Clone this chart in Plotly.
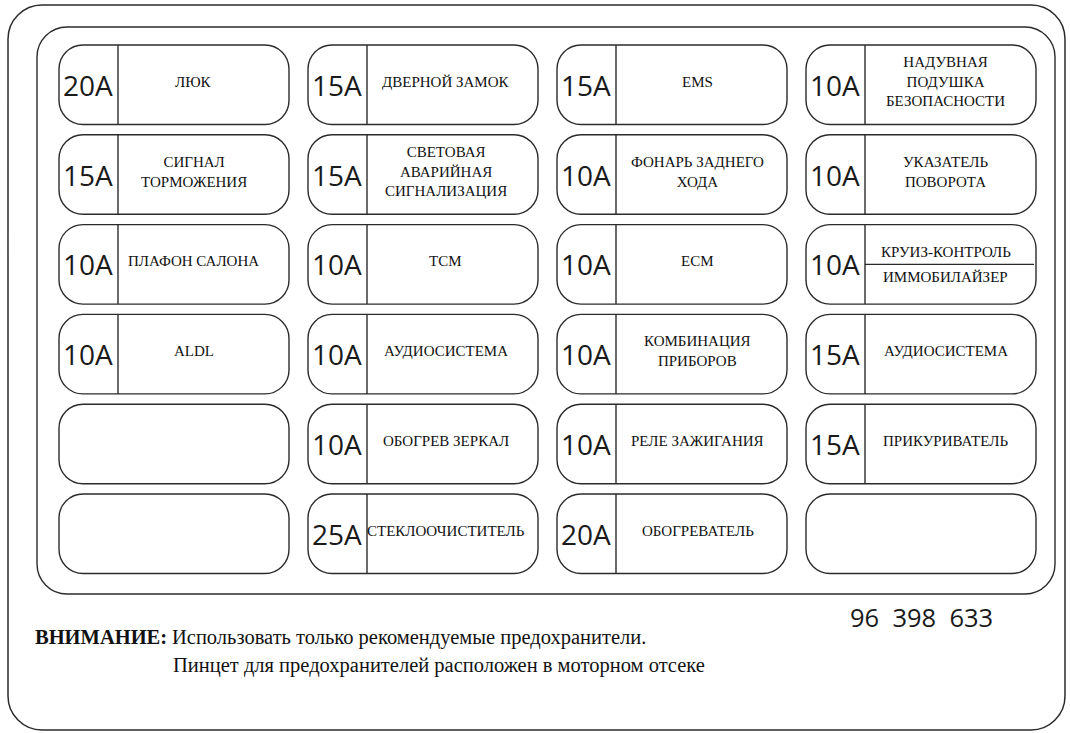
import plotly.graph_objects as go

# ---- data ----
columns = [1, 2, 3, 4]
rows = [1, 2, 3, 4, 5, 6]

amps_col1 = ["20A", "15A", "10A", "10A", "", ""]
labels_col1 = ["ЛЮК", "СИГНАЛ<br>ТОРМОЖЕНИЯ", "ПЛАФОН САЛОНА", "ALDL", "", ""]

amps_col2 = ["15A", "15A", "10A", "10A", "10A", "25A"]
labels_col2 = ["ДВЕРНОЙ ЗАМОК", "СВЕТОВАЯ<br>АВАРИЙНАЯ<br>СИГНАЛИЗАЦИЯ", "TCM",
               "АУДИОСИСТЕМА", "ОБОГРЕВ ЗЕРКАЛ", "СТЕКЛООЧИСТИТЕЛЬ"]

amps_col3 = ["15A", "10A", "10A", "10A", "10A", "20A"]
labels_col3 = ["EMS", "ФОНАРЬ ЗАДНЕГО<br>ХОДА", "ECM", "КОМБИНАЦИЯ<br>ПРИБОРОВ",
               "РЕЛЕ ЗАЖИГАНИЯ", "ОБОГРЕВАТЕЛЬ"]

amps_col4 = ["10A", "10A", "10A", "15A", "15A", ""]
labels_col4 = ["НАДУВНАЯ<br>ПОДУШКА<br>БЕЗОПАСНОСТИ", "УКАЗАТЕЛЬ<br>ПОВОРОТА",
               "КРУИЗ-КОНТРОЛЬ|ИММОБИЛАЙЗЕР", "АУДИОСИСТЕМА", "ПРИКУРИВАТЕЛЬ", ""]

part_number = "96\u00a0\u00a0398\u00a0\u00a0633"
warning_title = "ВНИМАНИЕ:"
warning_line1 = "Использовать только рекомендуемые предохранители."
warning_line2 = "Пинцет для предохранителей расположен в моторном отсеке"

all_amps = [amps_col1, amps_col2, amps_col3, amps_col4]
all_labels = [labels_col1, labels_col2, labels_col3, labels_col4]

# ---- layout geometry (style) ----
W, H = 1070, 733
cell_x0 = 59
cell_dx = 249
cell_w = 230
cell_y0 = 45
cell_dy = 89.8
cell_h = 79.5
amp_w = 59
cell_r = 24
label_dx = [-10, -7, -4, -5]
STROKE = "#2b2b2b"
SANS = "Open Sans"
SERIF = "Liberation Serif"
LABEL_SIZE = 15


def rrect(x0, y0, x1, y1, r):
    k = 0.5523 * r
    return (f"M{x0+r},{y0} L{x1-r},{y0} C{x1-r+k},{y0} {x1},{y0+r-k} {x1},{y0+r} "
            f"L{x1},{y1-r} C{x1},{y1-r+k} {x1-r+k},{y1} {x1-r},{y1} "
            f"L{x0+r},{y1} C{x0+r-k},{y1} {x0},{y1-r+k} {x0},{y1-r} "
            f"L{x0},{y0+r} C{x0},{y0+r-k} {x0+r-k},{y0} {x0+r},{y0} Z")


shapes = []
annotations = []

# outer frames
shapes.append(dict(type="path", path=rrect(8, 5, 1065, 730, 34),
                   line=dict(color=STROKE, width=1.5), xref="x", yref="y"))
shapes.append(dict(type="path", path=rrect(37, 27, 1055, 594, 30),
                   line=dict(color=STROKE, width=1.4), xref="x", yref="y"))

for ci, col in enumerate(columns):
    for ri, row in enumerate(rows):
        x0 = cell_x0 + ci * cell_dx
        x1 = x0 + cell_w
        y0 = cell_y0 + ri * cell_dy
        y1 = y0 + cell_h
        yc = (y0 + y1) / 2
        shapes.append(dict(type="path", path=rrect(x0, y0, x1, y1, cell_r),
                           line=dict(color=STROKE, width=1.4), xref="x", yref="y"))
        amp = all_amps[ci][ri]
        label = all_labels[ci][ri]
        if amp:
            xd = x0 + amp_w
            shapes.append(dict(type="line", x0=xd, x1=xd, y0=y0, y1=y1,
                               line=dict(color=STROKE, width=1.4), xref="x", yref="y"))
            annotations.append(dict(x=(x0 + xd) / 2 - 1, y=yc, text=amp, showarrow=False,
                                    xref="x", yref="y", xanchor="center", yanchor="middle",
                                    font=dict(family=SANS, size=28, color="#1a1a1a")))
        if label:
            lx = (x0 + amp_w + x1) / 2 + label_dx[ci]
            if "|" in label:
                top, bot = label.split("|")
                shapes.append(dict(type="line", x0=x0 + amp_w, x1=x1 - 2, y0=yc, y1=yc,
                                   line=dict(color=STROKE, width=1.4), xref="x", yref="y"))
                annotations.append(dict(x=lx, y=yc - 12, text=top, showarrow=False,
                                        xref="x", yref="y", xanchor="center", yanchor="middle",
                                        font=dict(family=SERIF, size=LABEL_SIZE, color="#111")))
                annotations.append(dict(x=lx, y=yc + 13, text=bot, showarrow=False,
                                        xref="x", yref="y", xanchor="center", yanchor="middle",
                                        font=dict(family=SERIF, size=LABEL_SIZE, color="#111")))
            else:
                annotations.append(dict(x=lx, y=yc - 3, text=label, showarrow=False,
                                        xref="x", yref="y", xanchor="center", yanchor="middle",
                                        font=dict(family=SERIF, size=LABEL_SIZE, color="#111")))

annotations.append(dict(x=921, y=617, text=part_number, showarrow=False, xref="x", yref="y",
                        xanchor="center", yanchor="middle",
                        font=dict(family=SANS, size=25.5, color="#1a1a1a")))
annotations.append(dict(x=33, y=637, text="<b>" + warning_title + "</b>", showarrow=False,
                        xref="x", yref="y", xanchor="left", yanchor="middle",
                        font=dict(family=SERIF, size=20.5, color="#111")))
annotations.append(dict(x=170, y=637, text=warning_line1, showarrow=False, xref="x", yref="y",
                        xanchor="left", yanchor="middle",
                        font=dict(family=SERIF, size=20.5, color="#111")))
annotations.append(dict(x=171, y=665, text=warning_line2, showarrow=False, xref="x", yref="y",
                        xanchor="left", yanchor="middle",
                        font=dict(family=SERIF, size=20.5, color="#111")))

fig = go.Figure()
fig.add_trace(go.Scatter(x=[], y=[], mode="markers", showlegend=False))
fig.update_layout(
    width=W, height=H, autosize=False,
    margin=dict(l=0, r=0, t=0, b=0),
    paper_bgcolor="white", plot_bgcolor="white",
    xaxis=dict(range=[0, W], visible=False, fixedrange=True),
    yaxis=dict(range=[H, 0], visible=False, fixedrange=True),
    shapes=shapes, annotations=annotations, showlegend=False,
)
fig.write_html("out.html", config={"displayModeBar": False},
               post_script="document.body.style.margin='0';document.body.style.overflow='hidden';")
